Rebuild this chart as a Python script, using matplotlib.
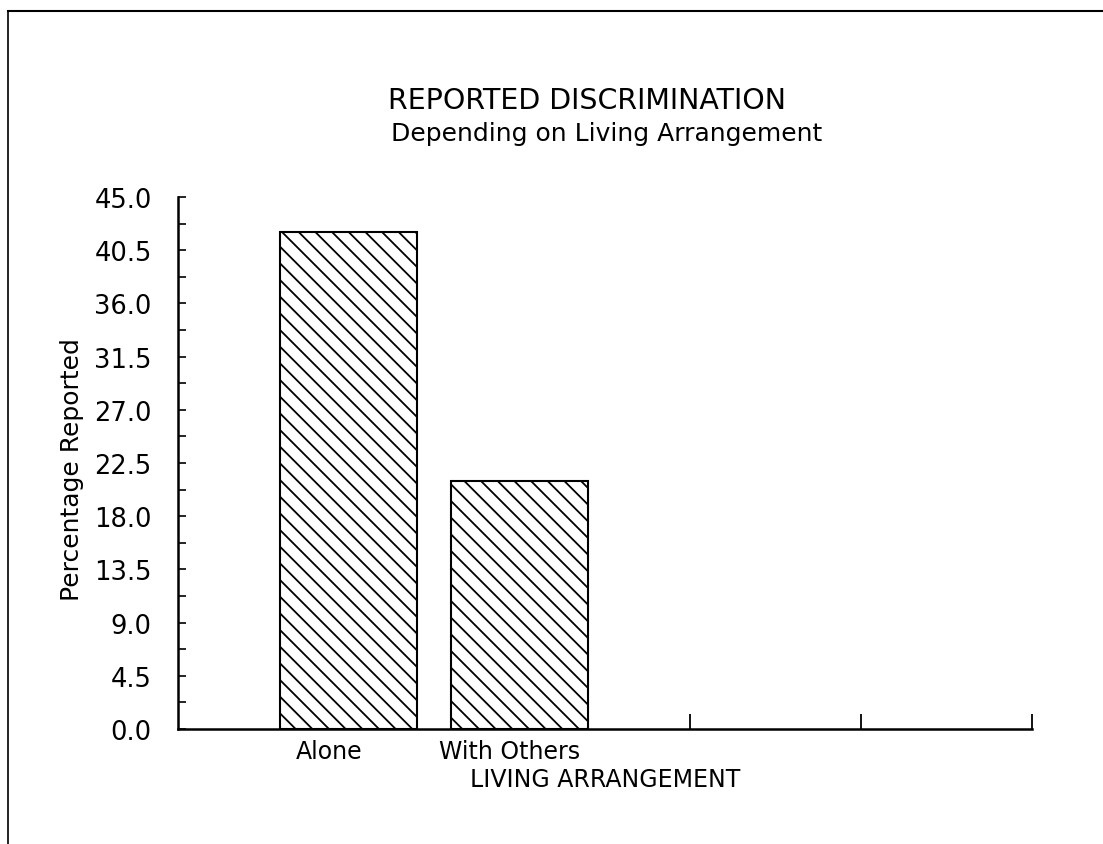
import matplotlib
matplotlib.use("Agg")
import matplotlib.pyplot as plt
from matplotlib.lines import Line2D
from matplotlib.transforms import ScaledTranslation
from matplotlib.ticker import MultipleLocator, FormatStrFormatter, FixedLocator

# data
categories = ["Alone", "With Others"]
percent_reported = [42.0, 21.0]
positions = [1, 2]
empty_slots = [3, 4, 5]

plt.rcParams["font.family"] = ["DejaVu Sans"]
plt.rcParams["hatch.linewidth"] = 1.3

fig = plt.figure(figsize=(11.03, 8.45), dpi=100)
ax = fig.add_axes([0.1614, 0.1361, 0.7742, 0.6296])

ax.bar(positions, percent_reported, width=0.8, color="white",
       edgecolor="black", linewidth=1.5, hatch="\\\\")

ax.set_xlim(0, 5)
ax.set_ylim(0, 45)

# y axis: labelled every 4.5, small ticks in between
ax.yaxis.set_major_locator(MultipleLocator(4.5))
ax.yaxis.set_minor_locator(MultipleLocator(2.25))
ax.yaxis.set_major_formatter(FormatStrFormatter("%.1f"))
ax.tick_params(axis="y", which="both", direction="in", length=6,
               width=1.2, labelsize=18.5, pad=19)

# categories get labels only, the empty slots get small marks
ax.set_xticks(positions)
ax.set_xticklabels(categories, fontsize=17)
ax.xaxis.set_minor_locator(FixedLocator(empty_slots))
ax.tick_params(axis="x", which="major", length=0, pad=7)
ax.tick_params(axis="x", which="minor", direction="in", length=11, width=1.3)

# hand-lettered labels sit a little left of the bar centres
for lab, dx in zip(ax.get_xticklabels(), [-0.2, -0.1]):
    lab.set_transform(lab.get_transform() +
                      ScaledTranslation(dx, 0, fig.dpi_scale_trans))

for side in ["top", "right"]:
    ax.spines[side].set_visible(False)
for side in ["left", "bottom"]:
    ax.spines[side].set_linewidth(1.8)

ax.set_ylabel("Percentage Reported", fontsize=18)
ax.yaxis.set_label_coords(-0.11, 0.49)
ax.set_xlabel("LIVING ARRANGEMENT", fontsize=17, labelpad=3)

fig.text(0.532, 0.880, "REPORTED DISCRIMINATION", ha="center", va="center",
         fontsize=20.5)
fig.text(0.550, 0.842, "Depending on Living Arrangement", ha="center",
         va="center", fontsize=18)

# page frame of the scanned sheet
fig.add_artist(Line2D([0.0073, 1.0], [0.9858, 0.9858], color="black",
                      linewidth=1.5, transform=fig.transFigure))
fig.add_artist(Line2D([0.0073, 0.0073], [0.0, 0.9858], color="black",
                      linewidth=1.2, transform=fig.transFigure))

fig.savefig("out.png", dpi=100)
